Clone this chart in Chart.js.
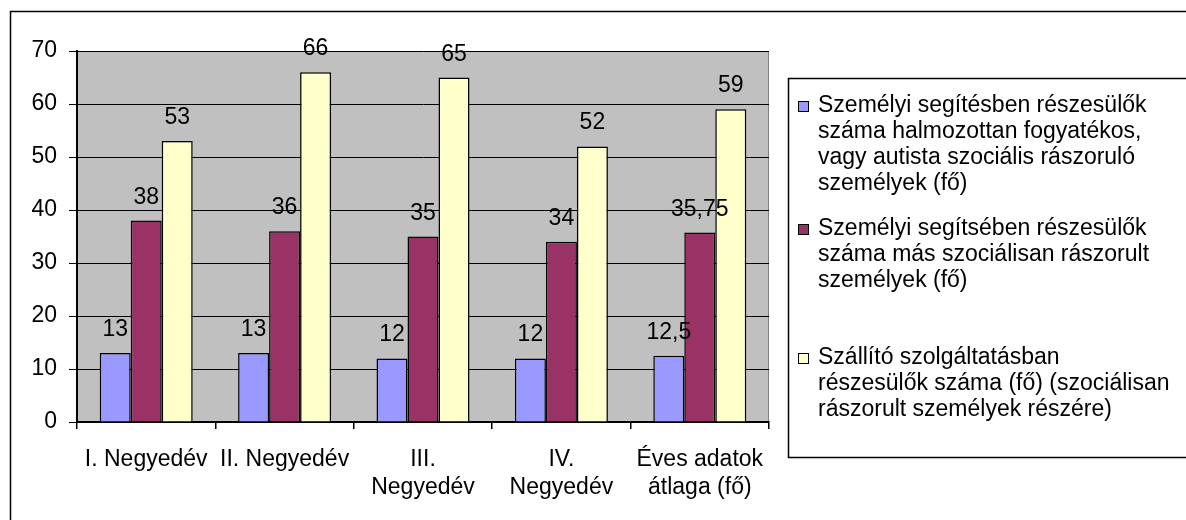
<!DOCTYPE html>
<html>
<head>
<meta charset="utf-8">
<script src="https://cdn.jsdelivr.net/npm/chart.js@4.4.0/dist/chart.umd.min.js"></script>
<style>
  html, body { margin: 0; padding: 0; background: #fff; }
  #wrap { width: 1186px; height: 520px; }
</style>
</head>
<body>
<div id="wrap"><canvas id="quarterChart" width="1186" height="520"></canvas></div>
<script>
// data
const categories = [
  ['I. Negyedév'],
  ['II. Negyedév'],
  ['III.', 'Negyedév'],
  ['IV.', 'Negyedév'],
  ['Éves adatok', 'átlaga (fő)']
];
const disabledClients = [13, 13, 12, 12, 12.5];
const otherClients = [38, 36, 35, 34, 35.75];
const transportClients = [53, 66, 65, 52, 59];
const yTicks = [0, 10, 20, 30, 40, 50, 60, 70];

const seriesNames = [
  ['Személyi segítésben részesülők', 'száma halmozottan fogyatékos,', 'vagy autista szociális rászoruló', 'személyek (fő)'],
  ['Személyi segítsében részesülők', 'száma más szociálisan rászorult', 'személyek (fő)'],
  ['Szállító szolgáltatásban', 'részesülők száma (fő) (szociálisan', 'rászorult személyek részére)']
];

const FONT = "23px 'Liberation Sans', Arial, sans-serif";
Chart.defaults.font.family = "'Liberation Sans', Arial, sans-serif";
Chart.defaults.font.size = 23;
Chart.defaults.color = '#000';

// gray plot area like old Excel charts
const plotBackground = {
  id: 'plotBackground',
  beforeDraw(chart) {
    const { ctx, chartArea: a } = chart;
    ctx.save();
    ctx.fillStyle = '#fff';
    ctx.fillRect(0, 0, chart.width, chart.height);
    ctx.fillStyle = '#c0c0c0';
    ctx.fillRect(a.left, a.top, a.right - a.left, a.bottom - a.top);
    ctx.strokeStyle = '#808080';
    ctx.lineWidth = 1;
    ctx.strokeRect(a.left + 0.5, a.top + 0.5, a.right - a.left - 1, a.bottom - a.top);
    ctx.restore();
  }
};

// value labels above each bar, decimal comma
const valueLabels = {
  id: 'valueLabels',
  afterDatasetsDraw(chart) {
    const c = chart.ctx;
    c.save();
    c.font = FONT;
    c.fillStyle = '#000';
    c.textAlign = 'center';
    c.textBaseline = 'alphabetic';
    chart.data.datasets.forEach((ds, i) => {
      chart.getDatasetMeta(i).data.forEach((bar, j) => {
        c.fillText(String(ds.data[j]).replace('.', ','), bar.x, bar.y - 17);
      });
    });
    c.restore();
  }
};

// boxed legend on the right + outer frame
const legendRows = [106, 229, 358];
const boxedLegend = {
  id: 'boxedLegend',
  afterDraw(chart) {
    const c = chart.ctx;
    c.save();
    c.strokeStyle = '#000';
    c.lineWidth = 1.5;
    c.strokeRect(10.5, 11.5, 1200, 540);
    c.strokeRect(788.5, 78.5, 420, 379);
    c.font = FONT;
    c.textAlign = 'left';
    c.textBaseline = 'middle';
    chart.data.datasets.forEach((ds, i) => {
      const top = legendRows[i];
      c.fillStyle = ds.backgroundColor;
      c.fillRect(798, top - 5, 11, 11);
      c.lineWidth = 1;
      c.strokeRect(798.5, top - 4.5, 10, 10);
      c.fillStyle = '#000';
      seriesNames[i].forEach((line, k) => c.fillText(line, 818, top + k * 26));
    });
    c.restore();
  }
};

const ctx = document.getElementById('quarterChart').getContext('2d');
const quarterChart = new Chart(ctx, {
  type: 'bar',
  data: {
    labels: categories,
    datasets: [
      { label: seriesNames[0].join(' '), data: disabledClients, backgroundColor: '#9999ff' },
      { label: seriesNames[1].join(' '), data: otherClients, backgroundColor: '#993366' },
      { label: seriesNames[2].join(' '), data: transportClients, backgroundColor: '#ffffcc' }
    ].map(ds => Object.assign(ds, {
      borderColor: '#000',
      borderWidth: 1.5,
      categoryPercentage: 0.672,
      barPercentage: 1
    }))
  },
  options: {
    responsive: false,
    animation: false,
    layout: { padding: { left: 0, top: 51, right: 417, bottom: 0 } },
    scales: {
      x: {
        afterFit: s => { s.height = 98; },
        grid: { drawOnChartArea: false, drawTicks: true, tickLength: 7, color: '#000', lineWidth: 1.5 },
        border: { display: true, color: '#000', width: 2 },
        ticks: { padding: 17, maxRotation: 0, autoSkip: false, font: { size: 23, lineHeight: 28 / 23 } }
      },
      y: {
        min: 0,
        max: 70,
        afterFit: s => { s.width = 77; },
        afterBuildTicks: s => { s.ticks = yTicks.map(v => ({ value: v })); },
        grid: { color: '#000', lineWidth: 1, tickLength: 8 },
        border: { display: true, color: '#000', width: 2 },
        ticks: { padding: 12 }
      }
    },
    plugins: {
      legend: { display: false },
      tooltip: { enabled: false }
    }
  },
  plugins: [plotBackground, valueLabels, boxedLegend]
});
</script>
</body>
</html>
